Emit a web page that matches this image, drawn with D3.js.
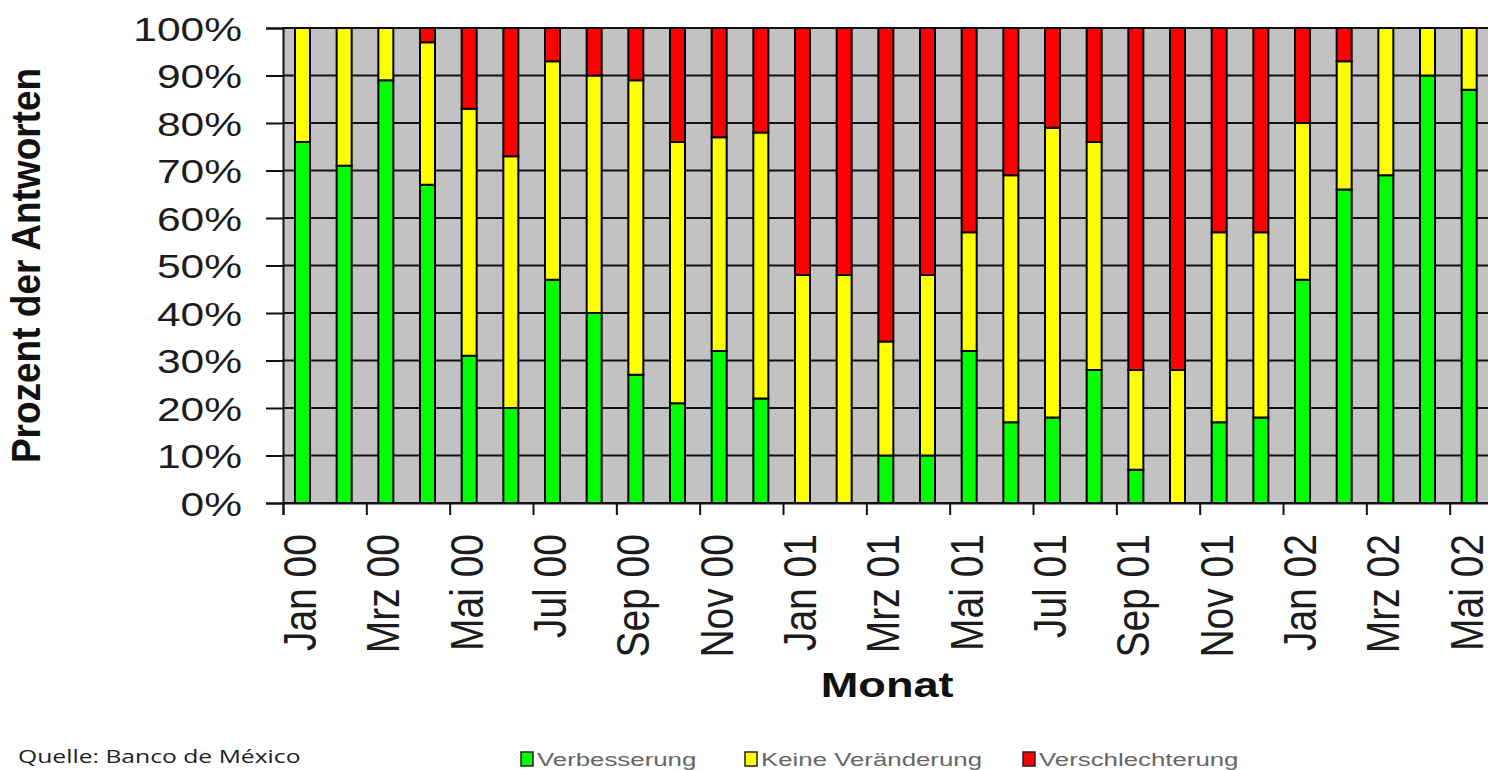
<!DOCTYPE html>
<html>
<head>
<meta charset="utf-8">
<script src="https://cdn.jsdelivr.net/npm/d3@7"></script>
<style>
  body { margin: 0; background: #ffffff; }
  svg { display: block; }
  text { font-family: "Liberation Sans", Arial, sans-serif; }
</style>
</head>
<body>
<div id="chart"></div>
<script>
// months Jan 00 .. Mai 02
var months = ["Jan 00","Feb 00","Mrz 00","Apr 00","Mai 00","Jun 00","Jul 00","Aug 00","Sep 00","Okt 00","Nov 00","Dez 00",
              "Jan 01","Feb 01","Mrz 01","Apr 01","Mai 01","Jun 01","Jul 01","Aug 01","Sep 01","Okt 01","Nov 01","Dez 01",
              "Jan 02","Feb 02","Mrz 02","Apr 02","Mai 02"];

// shares in percent
var verbesserung      = [76,71,89,67,31,20,47,40,27,21,32,22, 0, 0,10,10,32,17,18,28, 7, 0,17,18,47,66,69,90,87];
var keineVeraenderung = [24,29,11,30,52,53,46,50,62,55,45,56,48,48,24,38,25,52,61,48,21,28,40,39,33,27,31,10,13];
var verschlechterung  = [ 0, 0, 0, 3,17,27, 7,10,11,24,23,22,52,52,66,52,43,31,21,24,72,72,43,43,20, 7, 0, 0, 0];

var yTicks = [0,10,20,30,40,50,60,70,80,90,100];
var xTickLabels = months.filter(function(d, i){ return i % 2 === 0; });

var seriesNames = ["Verbesserung","Keine Veränderung","Verschlechterung"];
var seriesColors = ["#00ff00","#ffff00","#ff0000"];

var rows = months.map(function(m, i){
    return {month: m, "Verbesserung": verbesserung[i], "Keine Veränderung": keineVeraenderung[i], "Verschlechterung": verschlechterung[i]};
});

var width = 1488, height = 770;
var plotLeft = 283, plotTop = 28, plotBottom = 503;
var step = 41.667;
var plotRight = plotLeft + step * months.length;

var svg = d3.select("#chart").append("svg")
    .attr("width", width)
    .attr("height", height);

var x = d3.scaleBand().domain(months).range([plotLeft, plotRight]).padding(0);
var xi = d3.scaleLinear().domain([0, months.length]).range([plotLeft, plotRight]);
var y = d3.scaleLinear().domain([0, 100]).range([plotBottom, plotTop]);

// plot background
svg.append("rect")
    .attr("x", plotLeft).attr("y", plotTop)
    .attr("width", plotRight - plotLeft).attr("height", plotBottom - plotTop)
    .attr("fill", "#c2c2c2");

// horizontal gridlines
svg.append("g").selectAll("line")
    .data(yTicks)
    .join("line")
    .attr("x1", plotLeft).attr("x2", plotRight)
    .attr("y1", function(d){ return y(d); })
    .attr("y2", function(d){ return y(d); })
    .attr("stroke", "#111").attr("stroke-width", 2);

// stacked bars
var stack = d3.stack().keys(seriesNames);
var stacked = stack(rows);
var barOffset = 12, barWidth = 15;

svg.append("g").selectAll("g")
    .data(stacked)
    .join("g")
    .attr("fill", function(d, i){ return seriesColors[i]; })
    .selectAll("rect")
    .data(function(d){ return d.filter(function(p){ return p[1] - p[0] > 0; }); })
    .join("rect")
    .attr("x", function(d){ return x(d.data.month) + barOffset; })
    .attr("y", function(d){ return y(d[1]); })
    .attr("width", barWidth)
    .attr("height", function(d){ return y(d[0]) - y(d[1]); })
    .attr("stroke", "#000").attr("stroke-width", 2);

// y axis
var yAxis = svg.append("g")
    .attr("transform", "translate(" + plotLeft + ",0)")
    .call(d3.axisLeft(y).tickValues(yTicks).tickSize(17).tickFormat(function(d){ return d + "%"; }));
yAxis.select(".domain").attr("stroke", "#111").attr("stroke-width", 2);
yAxis.selectAll(".tick line").attr("stroke", "#111").attr("stroke-width", 2);
yAxis.selectAll(".tick text")
    .attr("x", 0).attr("dy", "0.36em")
    .attr("transform", "translate(-41,0) scale(1.25,1)")
    .attr("font-size", 34).attr("fill", "#1c1c1c")
    .style("font-family", "Liberation Sans, Arial, sans-serif");

// x axis: ticks between every second month
var xAxis = svg.append("g")
    .attr("transform", "translate(0," + plotBottom + ")")
    .call(d3.axisBottom(xi).tickValues(d3.range(0, months.length + 1, 2)).tickSize(12).tickFormat(""));
xAxis.select(".domain").attr("stroke", "#111").attr("stroke-width", 2);
xAxis.selectAll(".tick line").attr("stroke", "#111").attr("stroke-width", 2);

svg.append("g").selectAll("text")
    .data(xTickLabels)
    .join("text")
    .attr("transform", function(d){
        var cx = x(d) + barOffset + barWidth / 2 - 2;
        return "translate(" + cx + ",534) scale(1.17,1) rotate(-90)";
    })
    .attr("dy", "0.34em")
    .attr("text-anchor", "end")
    .attr("font-size", 39)
    .attr("fill", "#1c1c1c")
    .text(function(d){ return d; });

// axis titles
svg.append("text")
    .attr("transform", "translate(40," + ((plotTop + plotBottom) / 2) + ") scale(1.1,1) rotate(-90)")
    .attr("text-anchor", "middle")
    .attr("font-size", 37).attr("font-weight", "bold").attr("fill", "#111")
    .text("Prozent der Antworten");

svg.append("text")
    .attr("transform", "translate(" + ((plotLeft + plotRight) / 2) + ",697) scale(1.29,1)")
    .attr("text-anchor", "middle")
    .attr("font-size", 35).attr("font-weight", "bold").attr("fill", "#111")
    .text("Monat");

// legend
var legendX = [521, 745, 1023];
var legend = svg.append("g").selectAll("g")
    .data(seriesNames)
    .join("g")
    .attr("transform", function(d, i){ return "translate(" + legendX[i] + ",752)"; });
legend.append("rect")
    .attr("width", 12).attr("height", 14)
    .attr("fill", function(d, i){ return seriesColors[i]; })
    .attr("stroke", "#222").attr("stroke-width", 1.5);
legend.append("text")
    .attr("transform", "translate(16,14) scale(1.36,1)")
    .attr("font-size", 19).attr("fill", "#666")
    .text(function(d){ return d; });

// source
svg.append("text")
    .attr("transform", "translate(18,763) scale(1.3,1)")
    .attr("font-size", 19).attr("fill", "#222")
    .style("font-family", "Open Sans, sans-serif")
    .text("Quelle: Banco de México");
</script>
</body>
</html>
